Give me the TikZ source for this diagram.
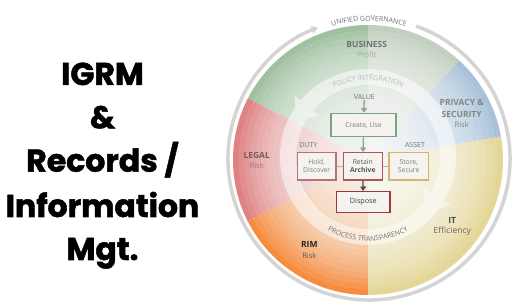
\documentclass[tikz,border=0pt]{standalone}
\usepackage{fontspec}
\setmainfont{Open Sans}
\newfontfamily\titlefont{Poppins}[BoldFeatures={FakeBold=1.6}]
\usetikzlibrary{decorations.text,arrows.meta}
\definecolor{bizL}{RGB}{150,186,150}
\definecolor{bizR}{RGB}{188,204,184}
\definecolor{privc}{RGB}{160,188,214}
\definecolor{itc}{RGB}{226,210,140}
\definecolor{rimc}{RGB}{246,128,42}
\definecolor{legc}{RGB}{220,116,116}
\definecolor{ringc}{RGB}{212,212,212}
\definecolor{boxfill}{RGB}{244,243,240}
\definecolor{boxtext}{RGB}{125,125,125}
\definecolor{grnb}{RGB}{122,165,122}
\definecolor{redb}{RGB}{185,115,115}
\definecolor{marb}{RGB}{160,55,60}
\definecolor{goldb}{RGB}{215,180,105}
\definecolor{lbl}{RGB}{115,115,115}
\begin{document}
\begin{tikzpicture}[x=1pt,y=1pt,
  catb/.style={font=\bfseries\fontsize{8.5}{8.5}\selectfont, inner sep=0pt},
  cats/.style={font=\fontsize{7.5}{8}\selectfont, inner sep=0pt},
  pbox/.style={draw, line width=1.2pt, fill=boxfill, align=center, inner sep=1pt,
     font=\fontsize{6.8}{7.8}\selectfont, text=boxtext},
  steplbl/.style={font=\fontsize{7}{7}\selectfont, text=lbl, inner sep=0pt},
  flowarrow/.style={draw=gray!80, line width=1.3pt, -{Triangle[length=4.5pt,width=6pt]}},
  titleline/.style={font=\titlefont\bfseries\fontsize{31.5}{31.5}\selectfont, anchor=base, inner sep=0pt}
]
\useasboundingbox (0,0) rectangle (523,308);
\fill[white] (0,0) rectangle (523,308);
\coordinate (O) at (368,148);
\coordinate (R) at (369,149);
\coordinate (B) at (368,151);

% sectors
\fill[bizL] (O) -- ([shift={(90:135)}]O) arc[start angle=90, end angle=152.8, radius=135] -- cycle;
\fill[bizR] (O) -- ([shift={(47.4:135)}]O) arc[start angle=47.4, end angle=90, radius=135] -- cycle;
\fill[legc] (O) -- ([shift={(152.8:135)}]O) arc[start angle=152.8, end angle=207, radius=135] -- cycle;
\fill[rimc] (O) -- ([shift={(207:135)}]O) arc[start angle=207, end angle=270, radius=135] -- cycle;
\fill[itc] (O) -- ([shift={(270:135)}]O) arc[start angle=270, end angle=370.1, radius=135] -- cycle;
\fill[privc] (O) -- ([shift={(10.1:135)}]O) arc[start angle=10.1, end angle=47.4, radius=135] -- cycle;
\foreach \i in {1,...,24} {
  \fill[white, opacity=0.1] (O) circle[radius={135*(25-\i)/24}];
}

% outer ring
\draw[ringc, line width=3.5pt, -{Latex[length=7pt,width=9pt]}]
  ([shift={(70.5:141)}]R) arc[start angle=70.5, end angle=-249, radius=141];
\path[decorate, decoration={text along path, text align=center,
  text={|\fontsize{7}{7}\selectfont\color{lbl}|UNIFIED GOVERNANCE}}]
  ([shift={(115:138)}]R) arc[start angle=115, end angle=65, radius=138];

% inner band
\begin{scope}[transparency group, opacity=0.5]
\fill[white, even odd rule] (B) circle[radius=88] (B) circle[radius=72];
\fill[white] ([shift={(140:64)}]B) -- ([shift={(140:96)}]B) -- ([shift={(153:80)}]B) -- cycle;
\fill[white] ([shift={(-30:64)}]B) -- ([shift={(-30:96)}]B) -- ([shift={(-44:80)}]B) -- cycle;
\end{scope}
\path[decorate, decoration={text along path, text align=center,
  text={|\fontsize{7}{7}\selectfont\color{gray!55}|POLICY INTEGRATION}}]
  ([shift={(125:77)}]B) arc[start angle=125, end angle=55, radius=77];
\path[decorate, decoration={text along path, text align=center,
  text={|\fontsize{7}{7}\selectfont\color{lbl}|PROCESS TRANSPARENCY}}]
  ([shift={(222:84)}]B) arc[start angle=222, end angle=318, radius=84];

% category labels
\node[catb, text=lbl] (biz) at (366.7,263.7) {BUSINESS};
\node[cats, text=gray!70] (bizs) at (366.7,253) {Profit};
\node[catb, text=gray!95] (priv1) at (461.7,205.3) {PRIVACY \&};
\node[catb, text=gray!95] (priv2) at (461.7,194) {SECURITY};
\node[cats, text=gray] (privs) at (461.7,183) {Risk};
\node[catb, text={rgb,255:red,110;green,95;blue,95}] (leg) at (256.7,153) {LEGAL};
\node[cats, text={rgb,255:red,150;green,120;blue,120}] (legs) at (256.7,142) {Risk};
\node[catb, text=black!85] (rim) at (309.3,63.7) {RIM};
\node[cats, text=black!65] (rims) at (309.3,52.7) {Risk};
\node[catb, text=black!70] (it) at (452.3,87.3) {IT};
\node[cats, font=\fontsize{8.5}{9}\selectfont, text=black!60] (its) at (452.3,76.3) {Efficiency};

% process boxes
\node[steplbl] (value) at (364.3,210.7) {VALUE};
\node[steplbl] (duty) at (308.3,163) {DUTY};
\node[steplbl] (asset) at (415,163) {ASSET};
\node[pbox, draw=grnb, minimum width=65pt, minimum height=23.4pt] (create) at (363.5,183) {Create, Use};
\node[pbox, draw=redb, minimum width=38.7pt, minimum height=27.3pt] (hold) at (316.7,141.7) {Hold,\\Discover};
\node[pbox, draw=marb!85, minimum width=39pt, minimum height=27.3pt, text=black!65] (retain) at (362.8,141.7) {Retain\\\textbf{Archive}};
\node[pbox, draw=goldb, minimum width=39.3pt, minimum height=27.3pt] (store) at (408.7,141.7) {Store,\\Secure};
\node[pbox, draw=marb, line width=1.4pt, minimum width=53.3pt, minimum height=20.6pt, text=black!75, font=\fontsize{7.2}{7.2}\selectfont] (dispose) at (363.3,106) {Dispose};
\draw[flowarrow] (value) -- (create);
\draw[flowarrow] (create) -- (retain);
\draw[flowarrow, draw=black!70] (retain) -- (dispose);
\draw[gray!60, line width=1pt] (hold) -- (retain);
\draw[gray!60, line width=1pt] (retain) -- (store);

% title
\node[titleline] (t1) at (102.5,223) {IGRM};
\node[titleline] (t2) at (102.5,179.7) {\&};
\node[titleline] (t3) at (102.5,136.3) {Records /};
\node[titleline] (t4) at (102.5,91) {Information};
\node[titleline] (t5) at (102.5,48) {Mgt.};
\end{tikzpicture}
\end{document}
